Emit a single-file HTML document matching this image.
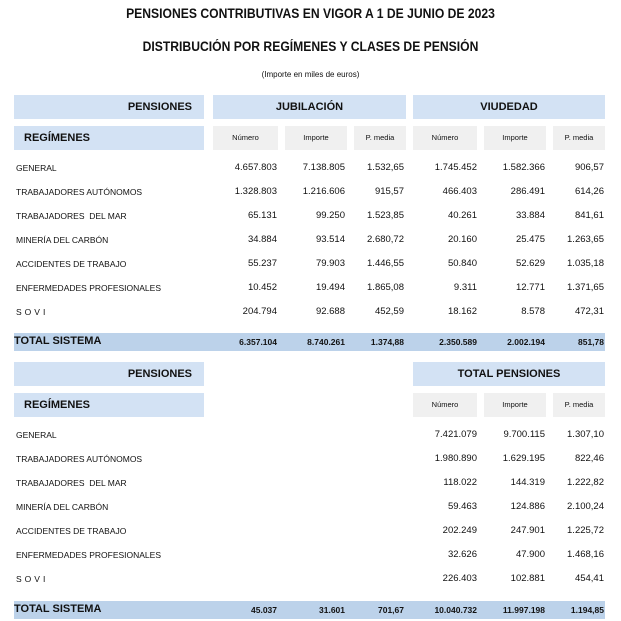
<!DOCTYPE html>
<html><head><meta charset="utf-8"><style>
body{margin:0;width:621px;height:621px;background:#fff;position:relative;overflow:hidden;font-family:"Liberation Sans",sans-serif;color:#111}
div{position:absolute;white-space:nowrap}
.t{left:0;width:621px;text-align:center;font-weight:bold;font-size:13.5px;transform:scaleX(.9)}
.b{background:#d3e2f4}
.g{background:#f0f0f0;font-size:7.5px;text-align:center;line-height:24px}
.h{font-weight:bold;font-size:11px;line-height:24px;text-align:center}
.l{left:16px;font-size:8.5px}
.n{font-size:9.5px;text-align:right;width:80px}
.tot{background:#bcd2ea;left:14px;width:591px;height:18px}
.tb{font-weight:bold;font-size:8.5px;text-align:right;width:80px}
</style></head><body>
<div class="t" style="top:6px">PENSIONES CONTRIBUTIVAS EN VIGOR A 1 DE JUNIO DE 2023</div>
<div class="t" style="top:39px">DISTRIBUCIÓN POR REGÍMENES Y CLASES DE PENSIÓN</div>
<div style="left:0;width:621px;text-align:center;top:70px;font-size:8px">(Importe en miles de euros)</div>

<div class="b h" style="left:14px;top:95px;width:190px;height:24px;text-align:right"><span style="padding-right:12px">PENSIONES</span></div>
<div class="b h" style="left:213px;top:95px;width:193px;height:24px">JUBILACIÓN</div>
<div class="b h" style="left:413px;top:95px;width:192px;height:24px">VIUDEDAD</div>
<div class="b h" style="left:14px;top:126px;width:190px;height:24px;text-align:left"><span style="padding-left:10px">REGÍMENES</span></div>
<div class="g" style="left:213px;top:126px;width:65px;height:24px">Número</div>
<div class="g" style="left:285px;top:126px;width:62px;height:24px">Importe</div>
<div class="g" style="left:354px;top:126px;width:52px;height:24px">P. media</div>
<div class="g" style="left:413px;top:126px;width:64px;height:24px">Número</div>
<div class="g" style="left:484px;top:126px;width:62px;height:24px">Importe</div>
<div class="g" style="left:553px;top:126px;width:52px;height:24px">P. media</div>

<div class="l" style="top:163px">GENERAL</div>
<div class="l" style="top:187px">TRABAJADORES AUTÓNOMOS</div>
<div class="l" style="top:211px">TRABAJADORES&nbsp; DEL MAR</div>
<div class="l" style="top:235px">MINERÍA DEL CARBÓN</div>
<div class="l" style="top:259px">ACCIDENTES DE TRABAJO</div>
<div class="l" style="top:283px">ENFERMEDADES PROFESIONALES</div>
<div class="l" style="top:307px;letter-spacing:3px">SOVI</div>

<div class="n" style="left:197px;top:162px">4.657.803</div><div class="n" style="left:265px;top:162px">7.138.805</div><div class="n" style="left:324px;top:162px">1.532,65</div><div class="n" style="left:397px;top:162px">1.745.452</div><div class="n" style="left:465px;top:162px">1.582.366</div><div class="n" style="left:524px;top:162px">906,57</div>
<div class="n" style="left:197px;top:186px">1.328.803</div><div class="n" style="left:265px;top:186px">1.216.606</div><div class="n" style="left:324px;top:186px">915,57</div><div class="n" style="left:397px;top:186px">466.403</div><div class="n" style="left:465px;top:186px">286.491</div><div class="n" style="left:524px;top:186px">614,26</div>
<div class="n" style="left:197px;top:210px">65.131</div><div class="n" style="left:265px;top:210px">99.250</div><div class="n" style="left:324px;top:210px">1.523,85</div><div class="n" style="left:397px;top:210px">40.261</div><div class="n" style="left:465px;top:210px">33.884</div><div class="n" style="left:524px;top:210px">841,61</div>
<div class="n" style="left:197px;top:234px">34.884</div><div class="n" style="left:265px;top:234px">93.514</div><div class="n" style="left:324px;top:234px">2.680,72</div><div class="n" style="left:397px;top:234px">20.160</div><div class="n" style="left:465px;top:234px">25.475</div><div class="n" style="left:524px;top:234px">1.263,65</div>
<div class="n" style="left:197px;top:258px">55.237</div><div class="n" style="left:265px;top:258px">79.903</div><div class="n" style="left:324px;top:258px">1.446,55</div><div class="n" style="left:397px;top:258px">50.840</div><div class="n" style="left:465px;top:258px">52.629</div><div class="n" style="left:524px;top:258px">1.035,18</div>
<div class="n" style="left:197px;top:282px">10.452</div><div class="n" style="left:265px;top:282px">19.494</div><div class="n" style="left:324px;top:282px">1.865,08</div><div class="n" style="left:397px;top:282px">9.311</div><div class="n" style="left:465px;top:282px">12.771</div><div class="n" style="left:524px;top:282px">1.371,65</div>
<div class="n" style="left:197px;top:306px">204.794</div><div class="n" style="left:265px;top:306px">92.688</div><div class="n" style="left:324px;top:306px">452,59</div><div class="n" style="left:397px;top:306px">18.162</div><div class="n" style="left:465px;top:306px">8.578</div><div class="n" style="left:524px;top:306px">472,31</div>

<div class="tot" style="top:333px"></div>
<div style="left:14px;top:333px;font-weight:bold;font-size:11px;line-height:16px">TOTAL SISTEMA</div>
<div class="tb" style="left:197px;top:337px">6.357.104</div><div class="tb" style="left:265px;top:337px">8.740.261</div><div class="tb" style="left:324px;top:337px">1.374,88</div><div class="tb" style="left:397px;top:337px">2.350.589</div><div class="tb" style="left:465px;top:337px">2.002.194</div><div class="tb" style="left:524px;top:337px">851,78</div>

<div class="b h" style="left:14px;top:362px;width:190px;height:24px;text-align:right"><span style="padding-right:12px">PENSIONES</span></div>
<div class="b h" style="left:413px;top:362px;width:192px;height:24px">TOTAL PENSIONES</div>
<div class="b h" style="left:14px;top:393px;width:190px;height:24px;text-align:left"><span style="padding-left:10px">REGÍMENES</span></div>
<div class="g" style="left:413px;top:393px;width:64px;height:24px">Número</div>
<div class="g" style="left:484px;top:393px;width:62px;height:24px">Importe</div>
<div class="g" style="left:553px;top:393px;width:52px;height:24px">P. media</div>

<div class="l" style="top:430px">GENERAL</div>
<div class="l" style="top:454px">TRABAJADORES AUTÓNOMOS</div>
<div class="l" style="top:478px">TRABAJADORES&nbsp; DEL MAR</div>
<div class="l" style="top:502px">MINERÍA DEL CARBÓN</div>
<div class="l" style="top:526px">ACCIDENTES DE TRABAJO</div>
<div class="l" style="top:550px">ENFERMEDADES PROFESIONALES</div>
<div class="l" style="top:574px;letter-spacing:3px">SOVI</div>

<div class="n" style="left:397px;top:429px">7.421.079</div><div class="n" style="left:465px;top:429px">9.700.115</div><div class="n" style="left:524px;top:429px">1.307,10</div>
<div class="n" style="left:397px;top:453px">1.980.890</div><div class="n" style="left:465px;top:453px">1.629.195</div><div class="n" style="left:524px;top:453px">822,46</div>
<div class="n" style="left:397px;top:477px">118.022</div><div class="n" style="left:465px;top:477px">144.319</div><div class="n" style="left:524px;top:477px">1.222,82</div>
<div class="n" style="left:397px;top:501px">59.463</div><div class="n" style="left:465px;top:501px">124.886</div><div class="n" style="left:524px;top:501px">2.100,24</div>
<div class="n" style="left:397px;top:525px">202.249</div><div class="n" style="left:465px;top:525px">247.901</div><div class="n" style="left:524px;top:525px">1.225,72</div>
<div class="n" style="left:397px;top:549px">32.626</div><div class="n" style="left:465px;top:549px">47.900</div><div class="n" style="left:524px;top:549px">1.468,16</div>
<div class="n" style="left:397px;top:573px">226.403</div><div class="n" style="left:465px;top:573px">102.881</div><div class="n" style="left:524px;top:573px">454,41</div>

<div class="tot" style="top:601px"></div>
<div style="left:14px;top:601px;font-weight:bold;font-size:11px;line-height:16px">TOTAL SISTEMA</div>
<div class="tb" style="left:197px;top:605px">45.037</div><div class="tb" style="left:265px;top:605px">31.601</div><div class="tb" style="left:324px;top:605px">701,67</div><div class="tb" style="left:397px;top:605px">10.040.732</div><div class="tb" style="left:465px;top:605px">11.997.198</div><div class="tb" style="left:524px;top:605px">1.194,85</div>
</body></html>
